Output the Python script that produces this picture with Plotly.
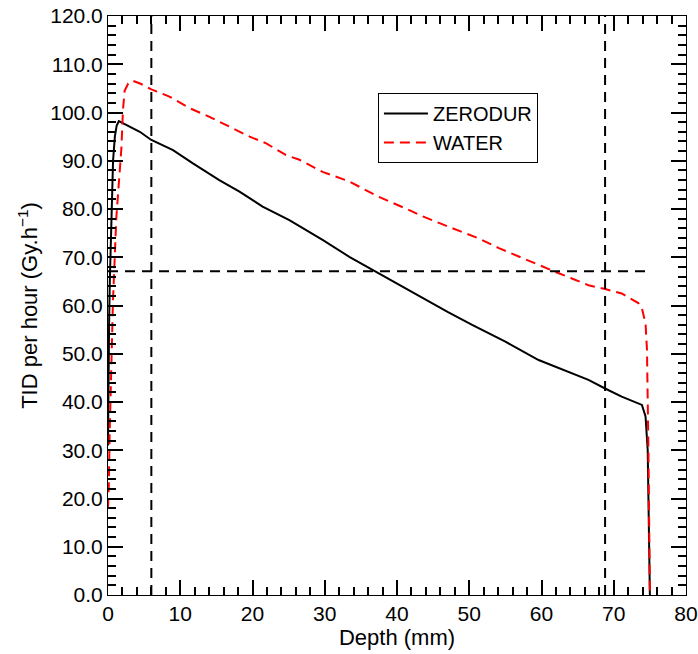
import plotly.graph_objects as go

# Depth-dose profiles (TID per hour vs depth)
zerodur_depth = [0.0, 0.05, 0.15, 0.25, 0.45, 0.7, 0.95, 1.2, 1.5, 2.5, 4.4, 6.0, 9.0,
                 11.7, 15.4, 18.2, 21.4, 25.1, 29.7, 33.4, 37.1, 40.7, 44.4, 47.0, 50.4,
                 55.0, 59.6, 64.2, 66.5, 68.8, 71.1, 73.9, 74.4, 74.7, 74.9, 75.0]
zerodur_tid = [31, 45, 56, 65, 78, 90, 95, 97.3, 98.2, 97.4, 96.0, 94.3, 92.2,
               89.5, 86.0, 83.6, 80.5, 77.7, 73.6, 70.1, 67.0, 63.9, 60.8, 58.7, 56.0,
               52.5, 48.7, 45.9, 44.6, 42.8, 41.1, 39.4, 37.0, 30.0, 10.0, 0.0]

water_depth = [0.0, 0.1, 0.23, 0.47, 0.69, 1.16, 1.6, 1.85, 2.07, 2.3, 2.8, 3.4, 4.6,
               6.0, 8.5, 11.3, 14.05, 16.8, 19.6, 21.9, 24.6, 26.5, 29.7, 33.4, 37.5,
               41.2, 43.5, 46.5, 48.6, 51.3, 54.1, 56.9, 59.6, 61.7, 64.2, 66.5, 68.8,
               71.1, 73.4, 73.9, 74.4, 74.6, 74.8, 74.9, 75.0]
water_tid = [18, 22, 33.5, 47.3, 61.1, 78.4, 87.4, 92.5, 100.5, 104.5, 106.0, 106.6, 105.9,
             104.8, 103.3, 100.9, 99.1, 97.1, 95.0, 93.6, 91.2, 90.2, 87.7, 85.7, 82.5,
             80.1, 78.5, 76.7, 75.5, 73.9, 71.9, 70.1, 68.4, 67.1, 65.6, 64.2, 63.4,
             62.5, 60.5, 59.4, 56.3, 50.8, 30.0, 10.0, 0.0]

# Reference markers
marker_depths = [6.0, 68.8]
marker_level = 67.1
level_extent = [0.0, 75.0]

x_range = [0, 80]
y_range = [0, 120]
x_major, x_minor = 10, 2
y_major, y_minor = 10, 2

font_family = "Liberation Sans, Arial, Helvetica, sans-serif"

fig = go.Figure()

fig.add_trace(go.Scatter(
    x=zerodur_depth, y=zerodur_tid, mode="lines", name="ZERODUR",
    line=dict(color="black", width=2),
))
fig.add_trace(go.Scatter(
    x=water_depth, y=water_tid, mode="lines", name="WATER",
    line=dict(color="#ff0000", width=2, dash="10px,6px"),
))

for d in marker_depths:
    fig.add_trace(go.Scatter(
        x=[d, d], y=y_range, mode="lines", showlegend=False, hoverinfo="skip",
        line=dict(color="black", width=2, dash="10px,7px"),
    ))
fig.add_trace(go.Scatter(
    x=level_extent, y=[marker_level, marker_level], mode="lines", showlegend=False,
    hoverinfo="skip", line=dict(color="black", width=2, dash="10px,7px"),
))

tick_font = dict(family=font_family, size=21, color="black")
title_font = dict(family=font_family, size=22, color="black")

# Boxed axes with inward major + minor ticks on all four sides
axis_common = dict(
    showgrid=False, zeroline=False, showline=True, linecolor="black", linewidth=1,
    mirror="allticks", ticks="inside", ticklen=15, tickwidth=2, tickcolor="black",
    tickmode="linear", tick0=0, tickfont=tick_font, automargin=False,
)

fig.update_xaxes(
    range=x_range, dtick=x_major, tickformat="d",
    minor=dict(tick0=0, dtick=x_minor, ticks="inside", ticklen=8, tickwidth=2,
               tickcolor="black", showgrid=False),
    title=dict(text="Depth (mm)", font=title_font, standoff=4),
    **axis_common,
)
fig.update_yaxes(
    range=y_range, dtick=y_major, tickformat=".1f",
    minor=dict(tick0=0, dtick=y_minor, ticks="inside", ticklen=8, tickwidth=2,
               tickcolor="black", showgrid=False),
    title=dict(text="TID per hour (Gy.h<sup>\u22121</sup>)", font=title_font, standoff=6),
    **axis_common,
)

fig.update_layout(
    width=698, height=654,
    margin=dict(l=108, r=12, t=16, b=59),
    paper_bgcolor="white", plot_bgcolor="white",
    font=dict(family=font_family, size=21, color="black"),
    legend=dict(
        x=0.467, y=0.867, xanchor="left", yanchor="top",
        bgcolor="white", bordercolor="black", borderwidth=1,
        font=dict(family=font_family, size=20, color="black"),
        itemwidth=44, tracegroupgap=0,
    ),
    showlegend=True,
)

fig.write_html("out.html")
